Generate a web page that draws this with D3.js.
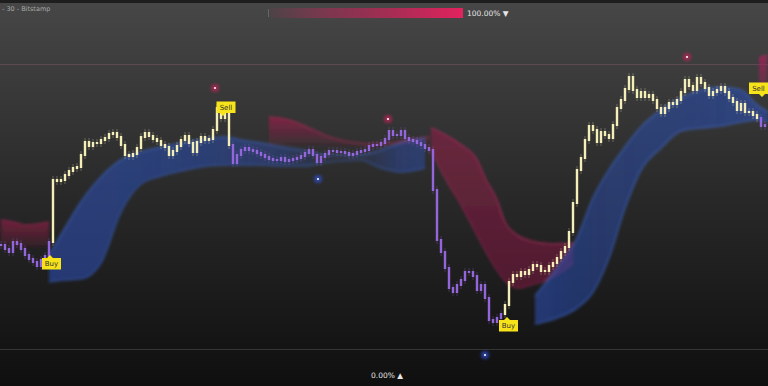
<!DOCTYPE html>
<html>
<head>
<meta charset="utf-8">
<script src="https://cdn.jsdelivr.net/npm/d3@7"></script>
<style>
  html, body { margin: 0; padding: 0; background: #111; overflow: hidden; }
  svg { display: block; }
</style>
</head>
<body>
<div id="chart"></div>
<script>
// closing prices, one candle per bar (0 = bottom of range, 285 = top of range)
const closes = [
  104,100,97,107,105,100,94,90,87,83,89,93,107,169,168,169,174,178,181,182,
  194,207,203,206,206,209,211,215,216,212,204,194,193,195,201,212,216,213,210,208,
  204,202,194,198,203,209,213,206,197,207,212,209,210,219,241,231,239,204,186,194,
  199,201,199,198,196,194,192,190,189,189,191,188,189,190,191,193,196,199,194,187,
  192,195,198,198,197,197,196,194,195,197,198,199,203,204,204,206,210,218,214,214,
  218,211,209,208,206,204,201,199,159,109,97,81,61,57,64,69,77,77,73,59,
  64,51,29,27,31,35,44,67,74,73,77,75,79,84,83,78,78,83,86,91,
  97,102,117,146,179,191,209,223,219,207,217,214,211,224,241,249,260,272,259,252,
  257,252,254,249,241,236,241,246,245,249,257,269,263,259,271,266,261,254,257,259,
  262,257,251,247,239,245,237,237,234,231,223,224
];

// regime changes: candles are bullish after a buy, bearish after a sell
const signals = [
  { i: 13, type: "buy" },
  { i: 58, type: "sell" },
  { i: 126, type: "buy" },
  { i: 190, type: "sell" }
];

// signal tags: bar index of the pointer and level of its tip
const tags = [
  { i: 12.25, v: 94, type: "buy" },
  { i: 55.5, v: 233, type: "sell" },
  { i: 126.5, v: 32, type: "buy" },
  { i: 190.25, v: 252, type: "sell" }
];

// extreme markers
const dots = [
  { i: 53.5, v: 261, kind: "top" },
  { i: 96.75, v: 230, kind: "top" },
  { i: 171.5, v: 292, kind: "top" },
  { i: 79.25, v: 170, kind: "bottom" },
  { i: 121, v: -6, kind: "bottom" }
];

// ribbons: [bar index, upper edge, lower edge]
const redRibbonA = [[0,129,106],[3,127,103],[6,124,101],[9,125,102],[12,127,103]];
const redRibbonB = [[67,232,204],[72,229,204],[77,221,204],[82,212,203],[87,207,202],[92,205,202],[97,206,202],[102,209,203],[107,212,204]];
const redRibbonC = [[107.5,221,199],[111,214,171],[115,204,144],[119,189,114],[121,171,99],[124,149,79],[126,127,68],[129,114,61],[132.5,108,64],[137.5,105,71],[143,106,86]];
const redRibbonD = [[189.5,292,258],[191.5,294,255]];
const blueRibbonA = [[12,94,67],[16,121,69],[20,147,70],[25,172,86],[30,189,137],[35,197,165],[40,202,173],[45,206,178],[50,209,182],[56,212,184],[60,209,184],[65,206,184],[70,202,183],[75,199,183],[82,194,187],[90,194,189],[95,199,181],[100,206,177],[106,211,181]];
const blueRibbonB = [[133.5,53,25],[139,81,31],[144,111,41],[148,151,57],[152,179,91],[156,202,141],[160,222,179],[165,239,201],[170,251,218],[175,259,221],[180,262,223],[185,259,227],[189,244,229],[191.75,237,227]];

const W = 768, H = 386;

const svg = d3.select("#chart").append("svg")
  .attr("width", W).attr("height", H);

const defs = svg.append("defs");

const bg = defs.append("linearGradient").attr("id", "bg")
  .attr("x1", 0).attr("y1", 0).attr("x2", 0).attr("y2", 1);
bg.append("stop").attr("offset", 0).attr("stop-color", "#474747");
bg.append("stop").attr("offset", 0.5).attr("stop-color", "#292929");
bg.append("stop").attr("offset", 1).attr("stop-color", "#0f0f0f");

const bar = defs.append("linearGradient").attr("id", "topbar")
  .attr("x1", 0).attr("y1", 0).attr("x2", 1).attr("y2", 0);
bar.append("stop").attr("offset", 0).attr("stop-color", "#e0245e").attr("stop-opacity", 0.05);
bar.append("stop").attr("offset", 0.45).attr("stop-color", "#c02558").attr("stop-opacity", 0.6);
bar.append("stop").attr("offset", 1).attr("stop-color", "#e3225f").attr("stop-opacity", 1);

defs.append("filter").attr("id", "soft")
  .attr("x", "-10%").attr("y", "-10%").attr("width", "120%").attr("height", "120%")
  .append("feGaussianBlur").attr("stdDeviation", 1.4);

defs.append("filter").attr("id", "glow")
  .attr("x", "-100%").attr("y", "-100%").attr("width", "300%").attr("height", "300%")
  .append("feGaussianBlur").attr("stdDeviation", 1.6);

const vGrad = (id, color, top, bottom) => {
  const g = defs.append("linearGradient").attr("id", id)
    .attr("x1", 0).attr("y1", 0).attr("x2", 0).attr("y2", 1);
  g.append("stop").attr("offset", 0).attr("stop-color", color).attr("stop-opacity", top);
  g.append("stop").attr("offset", 1).attr("stop-color", color).attr("stop-opacity", bottom);
};
const hGrad = (id, color, stops) => {
  const g = defs.append("linearGradient").attr("id", id)
    .attr("gradientUnits", "userSpaceOnUse")
    .attr("x1", 0).attr("y1", 0).attr("x2", W).attr("y2", 0);
  stops.forEach(s => g.append("stop").attr("offset", s[0] / W)
    .attr("stop-color", color).attr("stop-opacity", s[1]));
};

vGrad("redA", "#8a1c42", 0.75, 0.1);
vGrad("redB", "#951d48", 0.75, 0.05);
vGrad("redC", "#8c1b44", 0.6, 0.45);
vGrad("redD", "#a8205a", 0.75, 0.25);
hGrad("blueA", "#2a4cae", [[48, 0.6], [200, 0.55], [280, 0.4], [330, 0.1], [365, 0.15], [400, 0.45], [430, 0.5]]);
hGrad("blueB", "#2a4cae", [[534, 0.6], [600, 0.5], [700, 0.55], [768, 0.6]]);

svg.append("rect").attr("width", W).attr("height", H).attr("fill", "url(#bg)");
svg.append("rect").attr("width", W).attr("height", 3).attr("fill", "#1e1e1e");

const x = d3.scaleLinear().domain([0, closes.length - 1]).range([1, 1 + 4 * (closes.length - 1)]);
const y = d3.scaleLinear().domain([0, 285]).range([349, 64]);

// range lines
svg.append("line").attr("x1", 0).attr("x2", W)
  .attr("y1", y(285) + 0.5).attr("y2", y(285) + 0.5)
  .attr("stroke", "#5e4852").attr("stroke-width", 1);
svg.append("line").attr("x1", 0).attr("x2", W)
  .attr("y1", y(0) + 0.5).attr("y2", y(0) + 0.5)
  .attr("stroke", "#353535").attr("stroke-width", 1);

// ribbons
const area = d3.area()
  .x(d => x(d[0]))
  .y0(d => y(d[2]))
  .y1(d => y(d[1]))
  .curve(d3.curveMonotoneX);
const edge = k => d3.line().x(d => x(d[0])).y(d => y(d[k])).curve(d3.curveMonotoneX);

const ribbons = [
  { data: redRibbonA, fill: "url(#redA)", line: "#b8285a", hi: 0.45, lo: 0.0 },
  { data: redRibbonB, fill: "url(#redB)", line: "#c42a5c", hi: 0.5, lo: 0.0 },
  { data: redRibbonC, fill: "url(#redC)", line: "#c22c64", hi: 0.55, lo: 0.35 },
  { data: redRibbonD, fill: "url(#redD)", line: "#c9306a", hi: 0.3, lo: 0.0 },
  { data: blueRibbonA, fill: "url(#blueA)", line: "#3f6fe0", hi: 0.5, lo: 0.4 },
  { data: blueRibbonB, fill: "url(#blueB)", line: "#3f6fe0", hi: 0.5, lo: 0.5 }
];

const rib = svg.append("g").attr("filter", "url(#soft)");
ribbons.forEach(r => {
  rib.append("path").datum(r.data).attr("d", area).attr("fill", r.fill);
  rib.append("path").datum(r.data).attr("d", edge(1))
    .attr("fill", "none").attr("stroke", r.line).attr("stroke-width", 1.6).attr("stroke-opacity", r.hi);
  rib.append("path").datum(r.data).attr("d", edge(2))
    .attr("fill", "none").attr("stroke", r.line).attr("stroke-width", 1.6).attr("stroke-opacity", r.lo);
});

// candles
const regime = i => {
  let t = "sell";
  signals.forEach(s => { if (s.i <= i) t = s.type; });
  return t;
};
const candles = closes.map((c, i) => {
  const o = i > 0 ? closes[i - 1] : c;
  return { i, o, c, up: regime(i) === "buy" };
});

const cg = svg.append("g");
cg.selectAll("line").data(candles).join("line")
  .attr("x1", d => x(d.i)).attr("x2", d => x(d.i))
  .attr("y1", d => y(Math.max(d.o, d.c)) - 4)
  .attr("y2", d => y(Math.min(d.o, d.c)) + 4)
  .attr("stroke", d => d.up ? "#f4efb8" : "#9466dc")
  .attr("stroke-opacity", 0.3).attr("stroke-width", 1);
cg.selectAll("rect").data(candles).join("rect")
  .attr("x", d => x(d.i) - 1.2)
  .attr("width", 2.4)
  .attr("y", d => y(Math.max(d.o, d.c)) - 1)
  .attr("height", d => Math.abs(y(d.o) - y(d.c)) + 2)
  .attr("fill", d => d.up ? "#f4efb8" : "#9466dc");

// extreme dots
const dg = svg.append("g");
dots.forEach(d => {
  const col = d.kind === "top" ? "#c2245a" : "#2f4fd0";
  dg.append("circle").attr("cx", x(d.i)).attr("cy", y(d.v)).attr("r", 4)
    .attr("fill", col).attr("opacity", 0.7).attr("filter", "url(#glow)");
  dg.append("circle").attr("cx", x(d.i)).attr("cy", y(d.v)).attr("r", 1.1).attr("fill", "#fff");
});

// signal tags
const tg = svg.append("g").attr("font-family", "DejaVu Sans, sans-serif")
  .attr("font-size", 7);
tags.forEach(t => {
  const tx = x(t.i), ty = y(t.v);
  const w = 19, h = 11.5;
  let left = t.type === "buy" ? tx - 8 : tx - 6.5;
  left = Math.min(left, W - w);
  const top = t.type === "buy" ? ty + 3 : ty - 3 - h;
  const p = t.type === "buy"
    ? [[left, top], [tx - 3, top], [tx, ty], [tx + 3, top], [left + w, top], [left + w, top + h], [left, top + h]]
    : [[left, top], [left + w, top], [left + w, top + h], [tx + 3, top + h], [tx, ty], [tx - 3, top + h], [left, top + h]];
  tg.append("path").attr("d", "M" + p.join("L") + "Z").attr("fill", "#f6e31a");
  tg.append("text").attr("x", left + w / 2).attr("y", top + h / 2 + 2.5)
    .attr("text-anchor", "middle").attr("fill", "#333")
    .text(t.type === "buy" ? "Buy" : "Sell");
});

// header and range labels
svg.append("line").attr("x1", 268.5).attr("x2", 268.5).attr("y1", 9).attr("y2", 17)
  .attr("stroke", "#666").attr("stroke-width", 1);
svg.append("rect").attr("x", 270).attr("y", 8).attr("width", 193).attr("height", 10)
  .attr("fill", "url(#topbar)");
svg.append("text").attr("x", 467).attr("y", 16)
  .attr("font-family", "DejaVu Sans, sans-serif").attr("font-size", 7.5)
  .attr("fill", "#e6e6e6").text("100.00% \u25BC");
svg.append("text").attr("x", 371).attr("y", 378)
  .attr("font-family", "DejaVu Sans, sans-serif").attr("font-size", 7.5)
  .attr("fill", "#e6e6e6").text("0.00% \u25B2");
svg.append("text").attr("x", 2).attr("y", 11)
  .attr("font-family", "DejaVu Sans, sans-serif").attr("font-size", 6.5)
  .attr("fill", "#a8a8a8").text("- 30 - Bitstamp");
</script>
</body>
</html>
